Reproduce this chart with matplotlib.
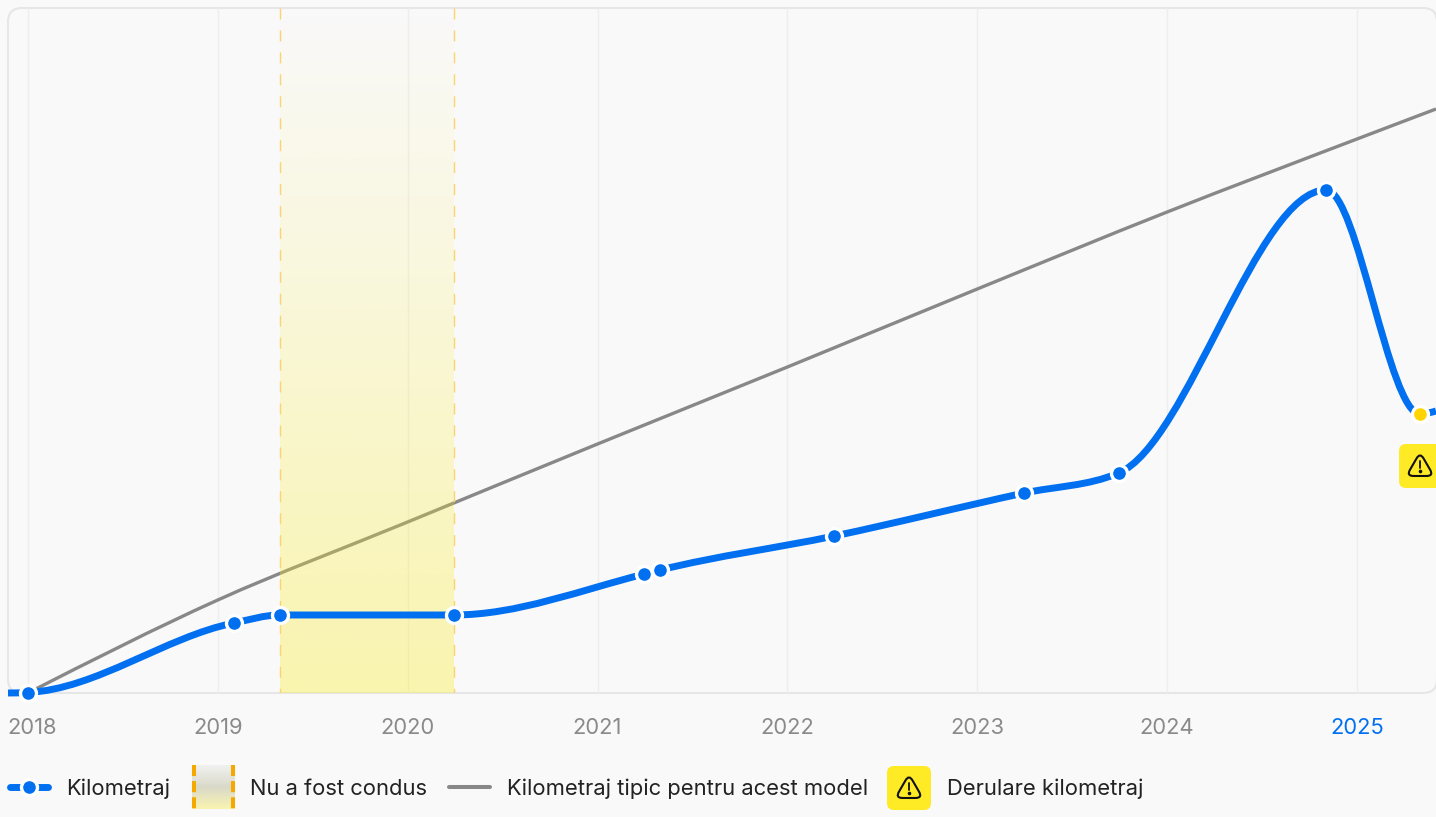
import numpy as np
import matplotlib
matplotlib.use('Agg')
import matplotlib.pyplot as plt
from matplotlib.colors import LinearSegmentedColormap
from matplotlib.patches import FancyBboxPatch, PathPatch
from matplotlib.path import Path
from matplotlib.transforms import Affine2D, ScaledTranslation

plt.rcParams['font.family'] = ['Inter', 'DejaVu Sans']

# readings, decimal years and km
odo_years = [2017.895, 2018.0, 2019.084, 2019.326, 2020.242, 2021.247, 2021.33,
             2022.247, 2023.247, 2023.745, 2024.837, 2025.332, 2025.416]
odo_km = [0, 100, 14000, 15600, 15600, 23800, 24600,
          31400, 40000, 44000, 100600, 55800, 56400]
# the first and last readings only run the line to the panel edges
marker_years = odo_years[1:-2]
marker_km = odo_km[1:-2]
rollback_year = odo_years[-2]
rollback_km = odo_km[-2]

typical_years = [2018, 2019, 2020, 2021, 2022, 2023, 2024, 2025, 2025.416]
typical_km = [0, 18600, 34200, 49800, 65200, 80800, 96200, 110800, 116800]

parked_start = 2019.326
parked_end = 2020.242

year_ticks = [2018, 2019, 2020, 2021, 2022, 2023, 2024, 2025]
legend_labels = ['Kilometraj', 'Nu a fost condus',
                 'Kilometraj tipic pentru acest model', 'Derulare kilometraj']

BG = '#f9f9f9'
BLUE = '#0070f0'
GREY = '#888888'
W, H = 1436, 817
FONT = 15.8


def monotone_path(x, y):
    """Monotone cubic through the points, as bezier segments (curveMonotoneX)"""
    x = np.asarray(x, dtype=float)
    y = np.asarray(y, dtype=float)
    h = np.diff(x)
    s = np.diff(y) / h
    m = np.zeros(len(x))
    for i in range(1, len(x) - 1):
        p = (s[i - 1] * h[i] + s[i] * h[i - 1]) / (h[i - 1] + h[i])
        m[i] = (np.sign(s[i - 1]) + np.sign(s[i])) * min(
            abs(s[i - 1]), abs(s[i]), 0.5 * abs(p))
    m[0] = (3 * s[0] - m[1]) / 2
    m[-1] = (3 * s[-1] - m[-2]) / 2
    verts = [(x[0], y[0])]
    codes = [Path.MOVETO]
    for i in range(len(h)):
        d = h[i] / 3
        verts += [(x[i] + d, y[i] + m[i] * d),
                  (x[i + 1] - d, y[i + 1] - m[i + 1] * d),
                  (x[i + 1], y[i + 1])]
        codes += [Path.CURVE4] * 3
    return Path(verts, codes)


def warning_icon(ax, cx, cy, size):
    """Rounded warning triangle with exclamation mark, in pixel coords"""
    r = size / 2
    top = (cx, cy - r * 1.3)
    right = (cx + r * 1.3, cy + r * 0.95)
    left = (cx - r * 1.3, cy + r * 0.95)
    corners = np.array([top, right, left])
    verts, codes = [], []
    for i in range(3):
        c = corners[i]
        a = c + (corners[i - 1] - c) * 0.26
        b = c + (corners[(i + 1) % 3] - c) * 0.26
        verts += [a, c, b]
        codes += [Path.MOVETO if i == 0 else Path.LINETO, Path.CURVE3, Path.CURVE3]
    verts.append(verts[0])
    codes.append(Path.CLOSEPOLY)
    ax.add_patch(PathPatch(Path(verts, codes), fc='none', ec='#111111', lw=1.5))
    ax.plot([cx, cx], [cy - r * 0.5, cy + r * 0.15], color='#111111', lw=1.3,
            solid_capstyle='round')
    ax.plot([cx], [cy + r * 0.5], 'o', color='#111111', ms=1.6)


fig = plt.figure(figsize=(W / 100, H / 100), dpi=100, facecolor=BG)

# panel behind the chart
to_px = Affine2D().scale(1, -1).translate(0, H)
fig.add_artist(FancyBboxPatch((8, 8), 1429, 685, boxstyle='round,pad=0,rounding_size=14',
                              fc=BG, ec='#e6e6e6', lw=1.5, transform=to_px, zorder=-1))

ax = fig.add_axes([8 / W, 1 - 693 / H, 1428 / W, 685 / H])
ax.patch.set_visible(False)
for spine in ax.spines.values():
    spine.set_visible(False)

for year in year_ticks:
    ax.axvline(year, color='#eeeeee', lw=1.0, zorder=1)

ax.add_patch(PathPatch(monotone_path(typical_years, typical_km), fc='none', ec=GREY,
                       lw=2.4, zorder=2))

# not driven band, drawn over the typical line
fade = np.zeros((256, 1, 4))
fade[..., 0] = 250 / 255
fade[..., 1] = 236 / 255
fade[..., 2] = 40 / 255
fade[..., 3] = np.linspace(0.0, 0.36, 256)[:, None]
ax.imshow(fade, extent=(parked_start, parked_end, 0, 137000), aspect='auto',
          interpolation='bilinear', origin='upper', zorder=3)
for edge in (parked_start, parked_end):
    ax.plot([edge, edge], [137000, 0], color='#fbd36f', lw=1.0,
            linestyle=(0, (7.9, 7.9)), zorder=4)

ax.add_patch(PathPatch(monotone_path(odo_years, odo_km), fc='none', ec=BLUE, lw=5.0,
                       capstyle='butt', clip_on=False, zorder=5))
ax.plot(marker_years, marker_km, 'o', color=BLUE, mec='white', mew=2.4, ms=11.5,
        clip_on=False, zorder=6)
ax.plot([rollback_year], [rollback_km], 'o', color='#ffd400', mec='white', mew=2.4,
        ms=11.5, clip_on=False, zorder=6)

ax.set_xlim(2017.895, 2025.416)
ax.set_ylim(0, 137000)
ax.set_yticks([])
ax.set_xticks(year_ticks)
ax.set_xticklabels(year_ticks, fontsize=FONT, color='#8a8a8a')
ax.tick_params(axis='x', length=0, pad=18)
tick_labels = ax.get_xticklabels()
tick_labels[-1].set_color(BLUE)
# the first label is held inside the panel
tick_labels[0].set_transform(tick_labels[0].get_transform()
                             + ScaledTranslation(4 / 100, 0, fig.dpi_scale_trans))

# pixel overlay for badge and legend
ov = fig.add_axes([0, 0, 1, 1], zorder=10)
ov.patch.set_visible(False)
ov.axis('off')

bx, by = ax.transData.transform((rollback_year, rollback_km))
bx, by = bx, H - by + 52
ov.add_patch(FancyBboxPatch((bx - 21, by - 22), 44, 44, boxstyle='round,pad=0,rounding_size=7',
                            fc='#ffea26', ec='none'))
warning_icon(ov, bx, by, 21)

# legend
ly = 787
ov.plot([10, 48], [ly, ly], color=BLUE, lw=5.0, solid_capstyle='round')
ov.plot([29], [ly], 'o', color=BLUE, mec='white', mew=2.4, ms=11.5)
ov.text(66, ly, legend_labels[0], fontsize=FONT, color='#222222', va='center_baseline')

swatch = LinearSegmentedColormap.from_list('swatch', ['#f1f1f1', '#d9d9c9', '#faf4b0'])
ov.imshow(np.linspace(0, 1, 128)[:, None], cmap=swatch, extent=(192, 235, 809, 765),
          aspect='auto', interpolation='bilinear', zorder=1)
for sx in (194, 233):
    ov.plot([sx, sx], [765, 809], color='#f5a800', lw=2.9, linestyle=(0, (2.75, 1.25)),
            zorder=2)
ov.text(250, ly, legend_labels[1], fontsize=FONT, color='#222222', va='center_baseline')

ov.plot([449, 490], [ly, ly], color=GREY, lw=2.9, solid_capstyle='round')
ov.text(507, ly, legend_labels[2], fontsize=FONT, color='#222222', va='center_baseline')

ov.add_patch(FancyBboxPatch((887, 766), 44, 44, boxstyle='round,pad=0,rounding_size=7',
                            fc='#ffea26', ec='none'))
warning_icon(ov, 909, 788, 21)
ov.text(947, ly, legend_labels[3], fontsize=FONT, color='#222222', va='center_baseline')

ov.set_xlim(0, W)
ov.set_ylim(H, 0)

fig.savefig('out.png', dpi=100, facecolor=BG)
